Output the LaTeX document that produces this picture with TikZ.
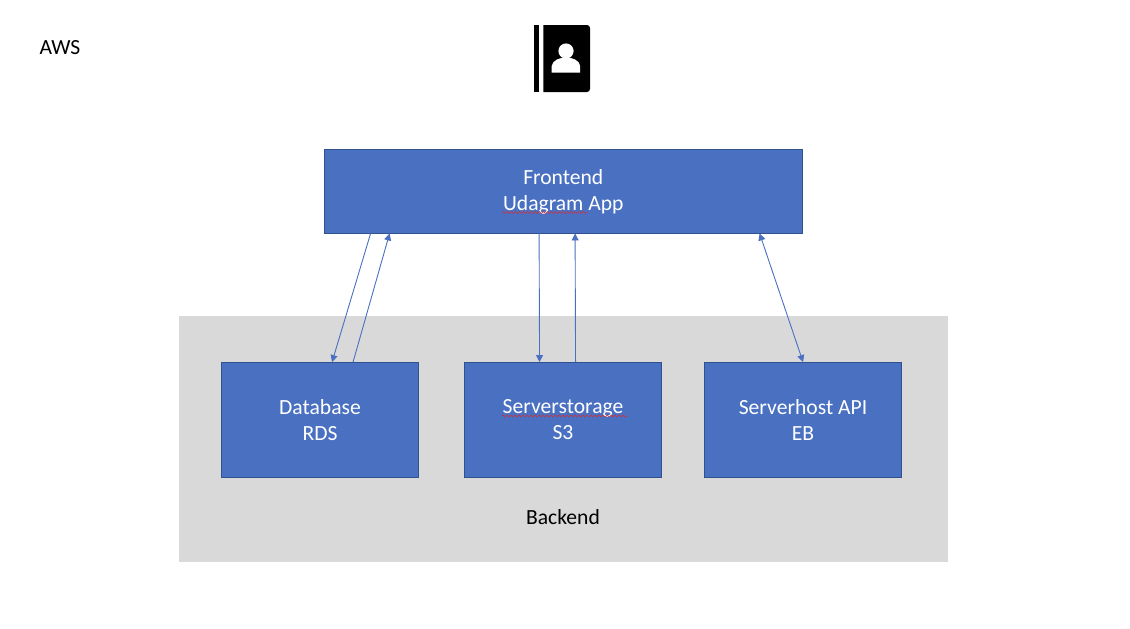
\documentclass[tikz,border=0pt]{standalone}
\usepackage{fontspec}
\setmainfont{Carlito}
\usetikzlibrary{arrows.meta,calc,decorations.pathmorphing}
\definecolor{boxfill}{HTML}{4A70C1}
\definecolor{boxline}{HTML}{2F528F}
\definecolor{backfill}{HTML}{D9D9D9}
\definecolor{squig}{HTML}{D0303A}
\tikzset{
  x=1pt,y=-1pt,
  bluebox/.style={draw=boxline,line width=0.9pt,fill=boxfill,text=white,inner sep=0pt,
     align=center,font=\fontsize{21.6}{26}\selectfont},
  lowbox/.style={bluebox,minimum width=197pt,minimum height=115pt},
  plain/.style={inner sep=0pt,font=\fontsize{21.6}{26}\selectfont,text=black},
  conn/.style={draw=boxfill,line width=0.9pt,-{Triangle[length=7pt,width=7pt]}},
  conntwo/.style={draw=boxfill,line width=0.9pt,{Triangle[length=7pt,width=7pt]}-{Triangle[length=7pt,width=7pt]}},
  squiggle/.style={draw=squig,line width=0.6pt,decorate,decoration={snake,amplitude=1pt,segment length=4pt}}
}
\begin{document}
\begin{tikzpicture}
\useasboundingbox (0,0) rectangle (1130,629);
\fill[white] (0,0) rectangle (1130,629);
% backend panel
\node[fill=backfill,minimum width=769pt,minimum height=246pt,inner sep=0pt] (backend) at (563.5,439) {};
\node[plain] (backlabel) at (563,517) {Backend};
\node[plain] (aws) at (60,47.5) {AWS};
% boxes
\node[bluebox,minimum width=478.5pt,minimum height=84pt] (front) at (563.3,191) {\rule{0pt}{16.4pt}Frontend\\Udagram App};
\node[lowbox] (db) at (320,420) {Database\\RDS};
\node[lowbox] (s3) at (563,420) {Serverstorage\\S3};
\node[lowbox] (eb) at (803,420) {Serverhost API\\EB};
% spell-check underlines
\draw[squiggle] ($(front.center)+(-61,21.5)$) -- ($(front.center)+(24,21.5)$);
\draw[squiggle] ($(s3.center)+(-61,-4)$) -- ($(s3.center)+(64,-4)$);
% connectors
\draw[conn] ($(front.south west)+(47,0)$) -- ($(db.north west)+(111,0)$);
\draw[conn] ($(db.north west)+(132,0)$) -- ($(front.south west)+(66,0)$);
\draw[conn] ($(front.south west)+(215.5,0)$) -- ($(s3.north west)+(75.5,0)$);
\draw[conn] ($(s3.north west)+(111.5,0)$) -- ($(front.south west)+(251.5,0)$);
\draw[conntwo] ($(front.south west)+(436,0)$) -- ($(eb.north west)+(99,0)$);
% icon
\fill[black] (534.3,25) rectangle (539.3,92);
\fill[black] (543.3,25) -- (587,25) arc[start angle=90,end angle=0,x radius=3,y radius=-3] -- (590,89)
   arc[start angle=0,end angle=-90,x radius=3,y radius=-3] -- (543.3,92) -- cycle;
\fill[white] (566,51) circle[radius=7.6];
\fill[white] (551.7,72.7) -- (551.7,66) .. controls (552.5,60) and (560,57.5) .. (566,57.5)
   .. controls (572,57.5) and (579.5,60) .. (580.2,66) -- (580.2,72.7) -- cycle;
\end{tikzpicture}
\end{document}
